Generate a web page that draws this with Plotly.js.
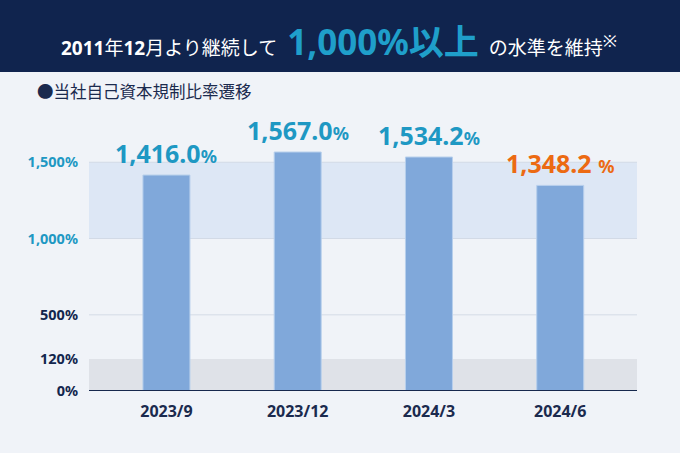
<!DOCTYPE html>
<html>
<head>
<meta charset="utf-8">
<script src="https://cdn.plot.ly/plotly-3.0.1.min.js"></script>
<style>html,body{margin:0;padding:0;background:#f0f3f8;}#chart{width:680px;height:453px;}</style>
</head>
<body>
<div id="chart"></div>
<script>
// ---- data ----
const categories = ["2023/9", "2023/12", "2024/3", "2024/6"];
const ratios = [1416.0, 1567.0, 1534.2, 1348.2];
const valueLabels = ["1,416.0", "1,567.0", "1,534.2", "1,348.2 "];
const highlightIndex = 3;
const tickLabels = ["0%", "120%", "500%", "1,000%", "1,500%"];
const tickValues = [0, 120, 500, 1000, 1500];
const targetLow = 1000, targetHigh = 1500, regulatoryMin = 120;

// ---- styling / layout constants ----
// the original chart stretches the 0–120% band; this is where its 120% line is drawn
const MIN_LINE_DRAWN_AT = 210;
const NAVY = "#13264d", TEAL = "#1e98c3", ORANGE = "#ec6a12";
const FONT = "Noto Sans, Noto Sans CJK JP, sans-serif";
const L = 89, R = 43, T = 100, B = 62, W = 680, H = 453;
const PW = W - L - R, PH = H - T - B;
const px = x => (x - L) / PW;
const py = y => (H - B - y) / PH;

const drawnTicks = tickValues.map(v => v === regulatoryMin ? MIN_LINE_DRAWN_AT : v);
const tickText = tickLabels.map((t, i) => {
  const c = tickValues[i] >= targetLow ? TEAL : NAVY;
  return `<span style="color:${c}">${t}</span>`;
});

const trace = {
  type: "bar",
  x: categories,
  y: ratios,
  width: 0.358,
  marker: { color: "#80a8da", line: { color: "#b7cfec", width: 1 } },
  hoverinfo: "skip",
  cliponaxis: false
};

const annotations = ratios.map((v, i) => ({
  x: categories[i], y: v, xref: "x", yref: "y",
  text: `<b>${valueLabels[i]}<span style="font-size:18px">%</span></b>`,
  showarrow: false, yanchor: "middle", yshift: 22,
  font: { family: FONT, size: 25, color: i === highlightIndex ? ORANGE : TEAL }
}));

annotations.push({
  xref: "paper", yref: "paper", x: px(339), y: py(41), xanchor: "center", yanchor: "middle",
  showarrow: false,
  text: `<b>2011</b>年<b>12</b>月より継続して&nbsp;&nbsp;<span style="font-size:35px;color:#1f9fca"><b>1,000%以上</b></span>&nbsp;&nbsp;の水準を維持<sup><span style="font-size:17px">※</span></sup>`,
  font: { family: FONT, size: 19, color: "#ffffff" }
});
annotations.push({
  xref: "paper", yref: "paper", x: px(35), y: py(91), xanchor: "left", yanchor: "middle",
  showarrow: false,
  text: "●当社自己資本規制比率遷移",
  font: { family: FONT, size: 16.5, color: "#1b2a4e" }
});

const shapes = [
  { type: "rect", xref: "paper", yref: "paper", x0: px(-5), x1: px(W + 5), y0: py(72), y1: py(-5),
    fillcolor: "#10244e", line: { width: 0 }, layer: "below" },
  { type: "rect", xref: "paper", yref: "y", x0: 0, x1: 1, y0: targetLow, y1: targetHigh,
    fillcolor: "#dde7f5", line: { width: 0 }, layer: "below" },
  { type: "rect", xref: "paper", yref: "y", x0: 0, x1: 1, y0: 0, y1: MIN_LINE_DRAWN_AT,
    fillcolor: "#dfe2e8", line: { width: 0 }, layer: "below" },
  { type: "line", xref: "paper", yref: "y", x0: 0, x1: 1, y0: targetHigh, y1: targetHigh,
    line: { color: "#d2dae6", width: 1 }, layer: "below" },
  { type: "line", xref: "paper", yref: "y", x0: 0, x1: 1, y0: targetLow, y1: targetLow,
    line: { color: "#d2dae6", width: 1 }, layer: "below" },
  { type: "line", xref: "paper", yref: "y", x0: 0, x1: 1, y0: 500, y1: 500,
    line: { color: "#dde3ec", width: 1.5 }, layer: "below" },
  { type: "line", xref: "paper", yref: "y", x0: 0, x1: 1, y0: 0, y1: 0,
    line: { color: "#16284d", width: 2 }, layer: "above" }
];

const layout = {
  width: W, height: H,
  margin: { l: L, r: R, t: T, b: B, pad: 0 },
  paper_bgcolor: "#f0f3f8", plot_bgcolor: "rgba(0,0,0,0)",
  font: { family: FONT },
  showlegend: false,
  xaxis: {
    type: "category", range: [-0.59, 3.585], showgrid: false, zeroline: false, showline: false,
    ticks: "", ticklabelstandoff: 9, fixedrange: true,
    tickfont: { family: FONT, size: 16, color: "#1b2a4e", weight: "bold" }
  },
  yaxis: {
    range: [0, PH / 0.1525], showgrid: false, zeroline: false, showline: false,
    tickvals: drawnTicks, ticktext: tickText, ticks: "", ticklabelstandoff: 10, fixedrange: true,
    tickfont: { family: FONT, size: 14.5, color: NAVY, weight: "bold" }
  },
  bargap: 0,
  shapes: shapes,
  annotations: annotations
};

Plotly.newPlot("chart", [trace], layout, { displayModeBar: false, staticPlot: true });
</script>
</body>
</html>
